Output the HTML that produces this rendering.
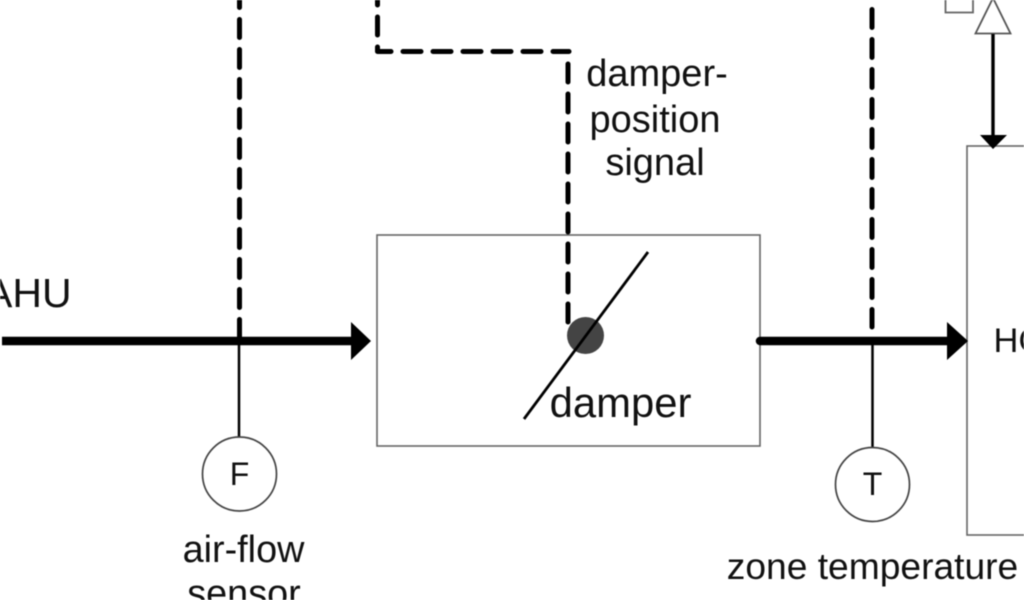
<!DOCTYPE html>
<html>
<head>
<meta charset="utf-8">
<style>
html,body{margin:0;padding:0;background:#fff;width:1024px;height:600px;overflow:hidden}
svg{display:block;filter:blur(0.55px)}
text{font-family:"Liberation Sans",sans-serif;fill:#111}
</style>
</head>
<body>
<svg width="1024" height="600" viewBox="0 0 1024 600" xmlns="http://www.w3.org/2000/svg">
<rect width="1024" height="600" fill="#fff"/>
<!-- boxes -->
<rect x="377" y="235" width="383" height="211" fill="none" stroke="#666" stroke-width="1.6"/>
<rect x="967" y="146" width="80" height="389" fill="none" stroke="#666" stroke-width="1.6"/>
<!-- dashed signals -->
<path d="M239.500 -10.500V337" fill="none" stroke="#000" stroke-width="5" stroke-linecap="round" stroke-dasharray="18 12"/>
<path d="M377.500 -13V51.500H569" fill="none" stroke="#000" stroke-width="5" stroke-linecap="round" stroke-linejoin="round" stroke-dasharray="18 12"/>
<path d="M568 64V323" fill="none" stroke="#000" stroke-width="5" stroke-linecap="round" stroke-dasharray="18 12"/>
<path d="M872 -20.500V327" fill="none" stroke="#000" stroke-width="5" stroke-linecap="round" stroke-dasharray="18 12"/>
<!-- main flow -->
<path d="M2 341H352" stroke="#000" stroke-width="8.500" fill="none"/>
<path d="M351 322L371 341L351 360Z" fill="#000"/>
<path d="M760 341H948" stroke="#000" stroke-width="8.500" stroke-linecap="round" fill="none"/>
<path d="M947 322L968 341L947 360Z" fill="#000"/>
<!-- sensor stems -->
<path d="M239 341V438" stroke="#000" stroke-width="2.500"/>
<path d="M872.500 341V448" stroke="#000" stroke-width="2.500"/>
<circle cx="239.500" cy="474" r="37" fill="#fff" stroke="#444" stroke-width="1.700"/>
<circle cx="872.500" cy="484.500" r="37" fill="#fff" stroke="#444" stroke-width="1.700"/>
<text x="239.500" y="485" font-size="32" text-anchor="middle">F</text>
<text x="872.500" y="495" font-size="32" text-anchor="middle">T</text>
<!-- damper -->
<circle cx="585.500" cy="335.500" r="18.500" fill="#444"/>
<path d="M524 419L648 252" stroke="#000" stroke-width="2.800" fill="none"/>
<!-- top right -->
<rect x="945.500" y="-10" width="27.500" height="22.500" fill="#fff" stroke="#666" stroke-width="1.800"/>
<path d="M993 -2L975.500 33.500H1010.500Z" fill="#fff" stroke="#555" stroke-width="1.800"/>
<path d="M993 34V138" stroke="#000" stroke-width="3.400"/>
<path d="M980 135H1007L993 149Z" fill="#000"/>
<!-- labels -->
<text x="657" y="86" font-size="38" text-anchor="middle">damper-</text>
<text x="655" y="132" font-size="38" text-anchor="middle">position</text>
<text x="655" y="175" font-size="38" text-anchor="middle">signal</text>
<text x="620.500" y="417" font-size="41.800" text-anchor="middle">damper</text>
<text x="-15" y="307" font-size="41">AHU</text>
<text x="993.500" y="352" font-size="34.500">HC</text>
<text x="243.500" y="562" font-size="37.800" text-anchor="middle">air-flow</text>
<text x="244" y="606" font-size="37.800" text-anchor="middle">sensor</text>
<text x="872.500" y="579" font-size="37.200" text-anchor="middle">zone temperature</text>
<text x="873" y="623" font-size="37.200" text-anchor="middle">sensor</text>
</svg>
</body>
</html>
